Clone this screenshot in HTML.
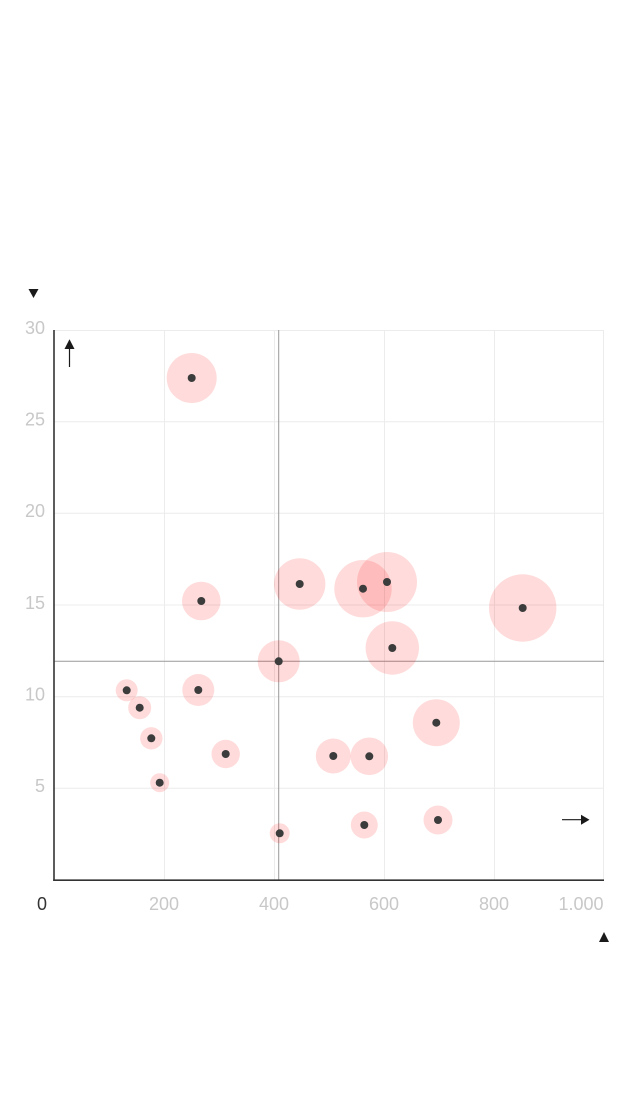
<!DOCTYPE html>
<html><head><meta charset="utf-8"><style>
html,body{margin:0;padding:0;background:#fff;}
svg{display:block;}
text{font-family:"Liberation Sans",sans-serif;font-size:18px;fill:#c8c8c8;}
</style></head><body>
<svg width="640" height="1094" viewBox="0 0 640 1094" xmlns="http://www.w3.org/2000/svg">
<g stroke="#ececec" stroke-width="1" fill="none">
<line x1="54" y1="330.5" x2="604" y2="330.5"/>
<line x1="54" y1="421.7" x2="604" y2="421.7"/>
<line x1="54" y1="513.3" x2="604" y2="513.3"/>
<line x1="54" y1="605" x2="604" y2="605"/>
<line x1="54" y1="696.7" x2="604" y2="696.7"/>
<line x1="54" y1="788.3" x2="604" y2="788.3"/>
<line x1="164.5" y1="330" x2="164.5" y2="880"/>
<line x1="274.5" y1="330" x2="274.5" y2="880"/>
<line x1="384.5" y1="330" x2="384.5" y2="880"/>
<line x1="494.5" y1="330" x2="494.5" y2="880"/>
<line x1="603.5" y1="330" x2="603.5" y2="880"/>
</g>
<g stroke="#999" stroke-width="1">
<line x1="278.7" y1="330" x2="278.7" y2="880"/>
<line x1="54" y1="661.3" x2="604" y2="661.3"/>
</g>
<g fill="rgb(255,0,0)" fill-opacity="0.14">
<circle cx="191.7" cy="378" r="25"/>
<circle cx="201.3" cy="601" r="19.3"/>
<circle cx="299.7" cy="584" r="25.7"/>
<circle cx="363" cy="588.7" r="28.7"/>
<circle cx="387" cy="582" r="30"/>
<circle cx="522.7" cy="608" r="33.7"/>
<circle cx="392.3" cy="648" r="26.7"/>
<circle cx="278.7" cy="661.3" r="21"/>
<circle cx="126.7" cy="690.3" r="11"/>
<circle cx="139.7" cy="707.7" r="11.5"/>
<circle cx="151.3" cy="738.3" r="11.2"/>
<circle cx="159.7" cy="782.7" r="9.5"/>
<circle cx="198.3" cy="690" r="16"/>
<circle cx="225.7" cy="754" r="14.2"/>
<circle cx="333.3" cy="756" r="17.5"/>
<circle cx="369.3" cy="756.3" r="18.8"/>
<circle cx="436.3" cy="722.7" r="23.5"/>
<circle cx="279.7" cy="833.3" r="10"/>
<circle cx="364.3" cy="825" r="13.5"/>
<circle cx="438" cy="820" r="14.5"/>
</g>
<g fill="#3c3c3c">
<circle cx="191.7" cy="378" r="4"/>
<circle cx="201.3" cy="601" r="4"/>
<circle cx="299.7" cy="584" r="4"/>
<circle cx="363" cy="588.7" r="4"/>
<circle cx="387" cy="582" r="4"/>
<circle cx="522.7" cy="608" r="4"/>
<circle cx="392.3" cy="648" r="4"/>
<circle cx="278.7" cy="661.3" r="4"/>
<circle cx="126.7" cy="690.3" r="4"/>
<circle cx="139.7" cy="707.7" r="4"/>
<circle cx="151.3" cy="738.3" r="4"/>
<circle cx="159.7" cy="782.7" r="4"/>
<circle cx="198.3" cy="690" r="4"/>
<circle cx="225.7" cy="754" r="4"/>
<circle cx="333.3" cy="756" r="4"/>
<circle cx="369.3" cy="756.3" r="4"/>
<circle cx="436.3" cy="722.7" r="4"/>
<circle cx="279.7" cy="833.3" r="4"/>
<circle cx="364.3" cy="825" r="4"/>
<circle cx="438" cy="820" r="4"/>
</g>
<g stroke="#333" stroke-width="1.6">
<line x1="54" y1="330" x2="54" y2="881"/>
<line x1="53.2" y1="880.2" x2="604" y2="880.2"/>
</g>
<g text-anchor="end">
<text x="45" y="334">30</text>
<text x="45" y="425.5">25</text>
<text x="45" y="517">20</text>
<text x="45" y="609">15</text>
<text x="45" y="700.5">10</text>
<text x="45" y="792">5</text>
</g>
<g text-anchor="middle">
<text x="42" y="910" style="fill:#333">0</text>
<text x="164" y="910">200</text>
<text x="274" y="910">400</text>
<text x="384" y="910">600</text>
<text x="494" y="910">800</text>
<text x="581" y="910">1.000</text>
</g>
<g fill="#1a1a1a">
<polygon points="28.5,289 38.5,289 33.5,298"/>
<polygon points="64.5,349 74.5,349 69.5,339.3"/>
<polygon points="581,814.7 581,824.7 589.5,819.7"/>
<polygon points="599,942 609,942 604,932"/>
</g>
<g stroke="#1a1a1a" stroke-width="1.2">
<line x1="69.5" y1="348" x2="69.5" y2="367"/>
<line x1="562" y1="819.7" x2="582" y2="819.7"/>
</g>
</svg>
</body></html>
